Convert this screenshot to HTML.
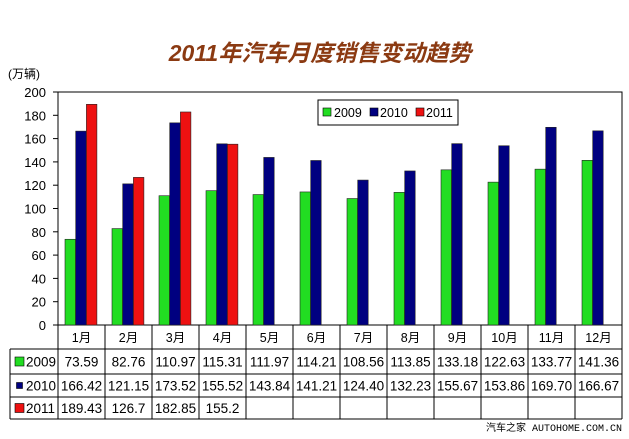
<!DOCTYPE html>
<html><head><meta charset="utf-8"><style>
body{margin:0;background:#fff;width:629px;height:434px;overflow:hidden;font-family:"Liberation Sans","Noto Sans CJK SC",sans-serif}
</style></head><body>
<svg width="629" height="434" xmlns="http://www.w3.org/2000/svg" font-family="Liberation Sans, Noto Sans CJK SC, sans-serif">
<text x="320" y="61" text-anchor="middle" font-size="23" font-weight="bold" font-style="italic" fill="#8b3a12">2011年汽车月度销售变动趋势</text>
<text x="8" y="78" font-size="12" fill="#000">(万辆)</text>
<rect x="58" y="92" width="564" height="233" fill="none" stroke="#000" stroke-width="1"/>
<g id="axis"></g><g id="bars"></g><g id="table"></g>
<g>
<rect x="318" y="100" width="140" height="25" fill="#fff" stroke="#000"/>
<rect x="323" y="108" width="8" height="8" fill="#22dd22" stroke="#000" stroke-width="0.6"/>
<text x="334" y="117" font-size="12.5">2009</text>
<rect x="370" y="108" width="8" height="8" fill="#000080" stroke="#000" stroke-width="0.6"/>
<text x="380" y="117" font-size="12.5">2010</text>
<rect x="416" y="108" width="8" height="8" fill="#ee1111" stroke="#000" stroke-width="0.6"/>
<text x="426" y="117" font-size="12.5">2011</text>
</g>
<text x="622" y="431" text-anchor="end" font-size="10" font-family="Liberation Mono, Noto Sans CJK SC, monospace">汽车之家 AUTOHOME.COM.CN</text>
</svg>
<script>
const months=["1月","2月","3月","4月","5月","6月","7月","8月","9月","10月","11月","12月"];
const s2009=[73.59,82.76,110.97,115.31,111.97,114.21,108.56,113.85,133.18,122.63,133.77,141.36];
const s2010=[166.42,121.15,173.52,155.52,143.84,141.21,124.40,132.23,155.67,153.86,169.70,166.67];
const s2011=[189.43,126.7,182.85,155.2];
const label2009=["73.59","82.76","110.97","115.31","111.97","114.21","108.56","113.85","133.18","122.63","133.77","141.36"];
const label2010=["166.42","121.15","173.52","155.52","143.84","141.21","124.40","132.23","155.67","153.86","169.70","166.67"];
const label2011=["189.43","126.7","182.85","155.2"];
const yTicks=[0,20,40,60,80,100,120,140,160,180,200];
const NS="http://www.w3.org/2000/svg";
const L=58,R=622,T=92,B=325,MAX=200,cw=(R-L)/12;
const y=v=>B-v/MAX*(B-T);
function mk(tag,attrs,parent,text){const e=document.createElementNS(NS,tag);for(const k in attrs)e.setAttribute(k,attrs[k]);if(text!=null)e.textContent=text;parent.appendChild(e);return e;}
const ax=document.getElementById('axis'),bars=document.getElementById('bars'),tb=document.getElementById('table');
yTicks.forEach(t=>{
  mk('line',{x1:L-5,x2:L,y1:y(t),y2:y(t),stroke:'#000'},ax);
  const tx=mk('text',{x:46,y:y(t)+5,'text-anchor':'end','font-size':'13'},ax,String(t));
  
  
});
const series=[[s2009,'#22dd22','2009'],[s2010,'#000080','2010'],[s2011,'#ee1111','2011']];
series.forEach(([arr,col,nm],si)=>{
  arr.forEach((v,i)=>{
    const bx=L+i*cw+7+si*10.7;
    const r=mk('rect',{x:bx,y:y(v),width:10.5,height:B-y(v),fill:col,stroke:'#222','stroke-width':'0.6'},bars);
    
    
  });
});
const rowY=[325,349,374,397,419];
mk('line',{x1:L,x2:R,y1:rowY[4],y2:rowY[4],stroke:'#000'},tb);
for(let r=1;r<4;r++) mk('line',{x1:10,x2:R,y1:rowY[r],y2:rowY[r],stroke:'#000'},tb);
mk('line',{x1:10,x2:10,y1:rowY[1],y2:rowY[4],stroke:'#000'},tb);
mk('line',{x1:10,x2:L,y1:rowY[4],y2:rowY[4],stroke:'#000'},tb);
for(let i=0;i<=12;i++) mk('line',{x1:L+i*cw,x2:L+i*cw,y1:B,y2:rowY[4],stroke:'#000'},tb);
months.forEach((m,i)=>{
  const t=mk('text',{x:L+i*cw+cw/2,y:342,'text-anchor':'middle','font-size':'12.5'},tb,m);
  
  
});
const labs=[label2009,label2010,label2011];
series.forEach(([arr,col,nm],si)=>{
  const cy=(rowY[si+1]+rowY[si+2])/2;
  const sw=si===1?6:9;
  mk('rect',{x:15+(9-sw)/2,y:cy-sw/2,width:sw,height:sw,fill:col,stroke:'#000','stroke-width':'0.6'},tb);
  const h=mk('text',{x:26,y:cy+5,'font-size':'13.5'},tb,nm);
  
  
  labs[si].forEach((s,i)=>{
    const t=mk('text',{x:L+i*cw+cw/2,y:cy+5,'text-anchor':'middle','font-size':'13.5'},tb,s);
    
    
  });
});
</script>
</body></html>
